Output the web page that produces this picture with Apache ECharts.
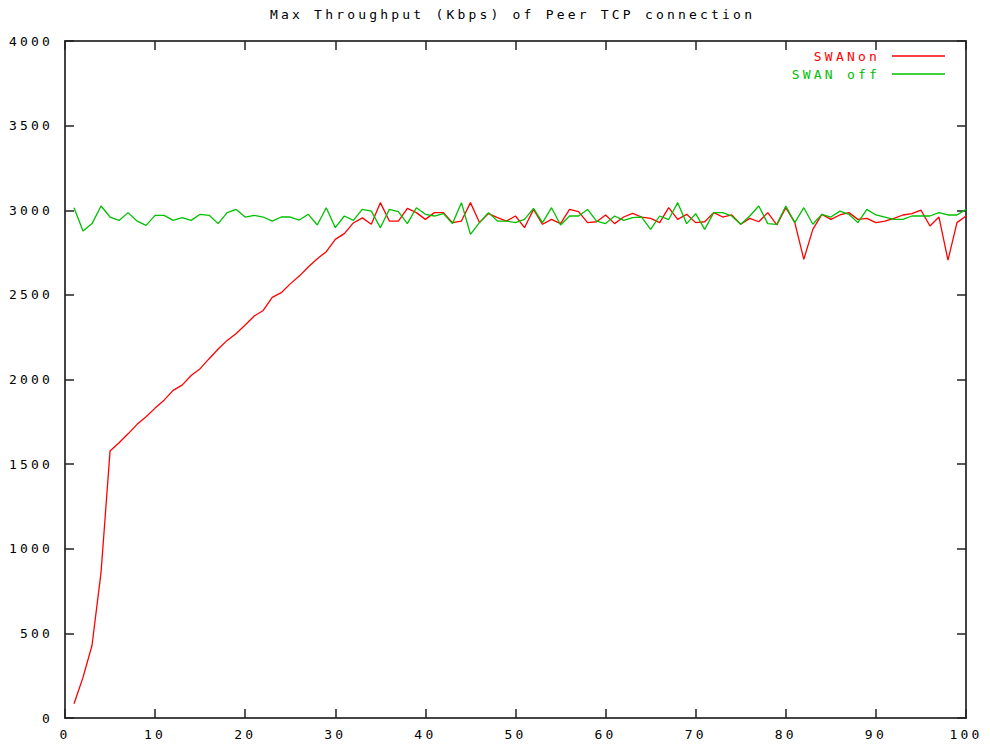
<!DOCTYPE html>
<html>
<head>
<meta charset="utf-8">
<title>Max Throughput (Kbps) of Peer TCP connection</title>
<script src="https://cdn.jsdelivr.net/npm/echarts@6/dist/echarts.min.js"></script>
<style>
  html, body { margin: 0; padding: 0; background: #ffffff; }
  #chart { width: 990px; height: 745px; }
  /* wide, terminal-like character spacing for every label */
  #chart text { letter-spacing: 3.2px !important; }
</style>
</head>
<body>
<div id="chart"></div>
<script>
// Throughput samples, one per run (runs 1..100)
const swanOn = [
  84, 240, 430, 860, 1577, 1626, 1679, 1735, 1780, 1831,
  1878, 1936, 1967, 2024, 2064, 2123, 2180, 2231, 2272, 2322,
  2375, 2408, 2485, 2513, 2565, 2611, 2665, 2714, 2755, 2828,
  2862, 2925, 2955, 2917, 3045, 2936, 2936, 3011, 2986, 2946,
  2986, 2986, 2927, 2936, 3045, 2927, 2980, 2956, 2936, 2966,
  2897, 3005, 2917, 2946, 2921, 3005, 2992, 2927, 2932, 2972,
  2921, 2960, 2982, 2960, 2952, 2927, 3015, 2946, 2976, 2927,
  2932, 2986, 2960, 2972, 2917, 2952, 2932, 2986, 2913, 3015,
  2927, 2710, 2887, 2976, 2946, 2972, 2986, 2946, 2952, 2927,
  2936, 2952, 2972, 2980, 3001, 2907, 2960, 2705, 2927, 2966
];
const swanOff = [
  3015, 2877, 2921, 3025, 2960, 2940, 2986, 2936, 2911, 2970,
  2970, 2940, 2956, 2940, 2976, 2970, 2921, 2986, 3005, 2960,
  2970, 2960, 2936, 2960, 2960, 2942, 2976, 2913, 3015, 2897,
  2966, 2940, 3005, 2995, 2897, 3005, 2992, 2921, 3015, 2976,
  2966, 2980, 2921, 3045, 2858, 2927, 2986, 2936, 2936, 2927,
  2946, 3011, 2927, 3015, 2913, 2966, 2966, 3005, 2936, 2921,
  2966, 2940, 2956, 2960, 2887, 2966, 2945, 3045, 2921, 2980,
  2887, 2986, 2986, 2966, 2917, 2966, 3025, 2921, 2917, 3025,
  2927, 3015, 2917, 2976, 2960, 2995, 2976, 2927, 3005, 2972,
  2960, 2946, 2946, 2966, 2966, 2966, 2986, 2972, 2972, 3005
];
const seriesNames = ['SWANon', 'SWAN off'];
const seriesColors = ['#ff0000', '#00c000'];
const titleText = 'Max Throughput (Kbps) of Peer TCP connection';

const FONT = "'DejaVu Sans Mono', 'Liberation Mono', monospace";
const AXIS_COLOR = '#444444';

// pair each sample with its run number
const toPoints = arr => arr.map((v, i) => [i + 1, v]);

const frameAxis = (extra) => Object.assign({
  type: 'value',
  axisLine: { show: true, onZero: false, lineStyle: { color: AXIS_COLOR, width: 2 } },
  axisTick: { show: true, inside: true, length: 9, lineStyle: { color: '#222222', width: 1.5 } },
  splitLine: { show: false },
  axisLabel: { show: false }
}, extra);

const labelStyle = {
  color: '#000000', fontFamily: FONT, fontSize: 13,
  formatter: v => String(v)
};

const chart = echarts.init(document.getElementById('chart'), null, { renderer: 'svg' });
chart.setOption({
  backgroundColor: '#ffffff',
  animation: false,
  title: {
    text: titleText,
    // placed so the title sits centred over the plot frame
    left: 265,
    top: 3,
    padding: 5,
    textStyle: { color: '#000000', fontFamily: FONT, fontSize: 13, fontWeight: 'normal' }
  },
  legend: {
    orient: 'vertical',
    align: 'right',
    right: 40,
    top: 42,
    icon: 'rect',
    itemWidth: 53,
    itemHeight: 1.5,
    itemGap: 0,
    textStyle: { fontFamily: FONT, fontSize: 13, lineHeight: 18, padding: [0, 7, 0, 0] },
    data: seriesNames.map((n, i) => ({ name: n, textStyle: { color: seriesColors[i] } }))
  },
  grid: { left: 65, right: 24, top: 41, bottom: 27, containLabel: false },
  xAxis: [
    frameAxis({
      position: 'bottom', min: 0, max: 100, interval: 10,
      axisLabel: Object.assign({ show: true, margin: 10 }, labelStyle)
    }),
    frameAxis({ position: 'top', min: 0, max: 100, interval: 10 })
  ],
  yAxis: [
    frameAxis({
      position: 'left', min: 0, max: 4000, interval: 500,
      axisLabel: Object.assign({ show: true, margin: 12 }, labelStyle)
    }),
    frameAxis({ position: 'right', min: 0, max: 4000, interval: 500 })
  ],
  series: [swanOn, swanOff].map((arr, i) => ({
    name: seriesNames[i],
    type: 'line',
    data: toPoints(arr),
    symbol: 'none',
    color: seriesColors[i],
    lineStyle: { color: seriesColors[i], width: 1.3 }
  }))
});
</script>
</body>
</html>
